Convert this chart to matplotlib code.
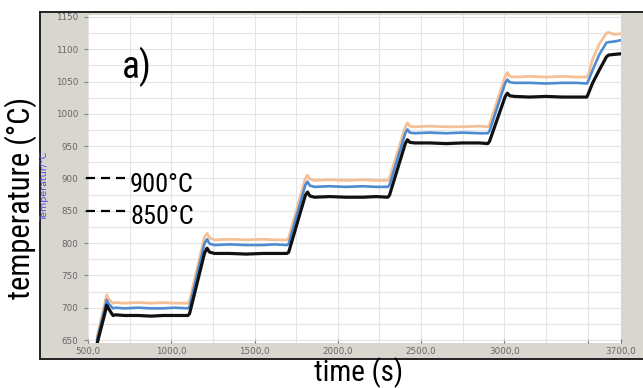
import matplotlib
matplotlib.use("Agg")
import matplotlib.pyplot as plt
from matplotlib.patches import Rectangle
from matplotlib.lines import Line2D
from matplotlib.ticker import MultipleLocator
from matplotlib import font_manager as fm

# ---------------- data ----------------
time_s = [555, 600, 612, 625, 650, 665, 720, 800, 880, 950, 1020, 1100,
          1110, 1200, 1215, 1230, 1260, 1350, 1450, 1550, 1620, 1695,
          1705, 1805, 1818, 1832, 1860, 1950, 2050, 2150, 2230, 2300,
          2310, 2405, 2418, 2432, 2460, 2550, 2650, 2750, 2850, 2900,
          2910, 3005, 3018, 3032, 3060, 3150, 3250, 3350, 3430, 3495,
          3505, 3530, 3570, 3612, 3625, 3660, 3700]

orange = [656, 706, 720, 713, 707, 708, 707, 708, 707, 708, 707, 707,
          711, 810, 815, 808, 805, 806, 805, 806, 805, 805,
          808, 900, 905, 899, 897, 898, 897, 898, 897, 897,
          900, 980, 986, 981, 980, 981, 980, 980, 981, 980,
          983, 1058, 1064, 1058, 1057, 1058, 1057, 1058, 1057, 1057,
          1062, 1085, 1108, 1125, 1126, 1123, 1124]

blue = [651, 698, 712, 706, 699, 700, 699, 700, 699, 699, 700, 699,
        702, 800, 806, 799, 797, 798, 797, 797, 798, 797,
        799, 890, 895, 889, 887, 888, 887, 888, 887, 887,
        890, 970, 976, 971, 970, 971, 970, 971, 970, 970,
        973, 1048, 1053, 1049, 1048, 1048, 1047, 1048, 1048, 1047,
        1052, 1068, 1092, 1110, 1111, 1112, 1114]

black = [645, 690, 704, 698, 688, 689, 688, 688, 687, 688, 688, 688,
         691, 785, 792, 786, 784, 784, 783, 784, 784, 784,
         786, 874, 879, 873, 871, 872, 871, 871, 872, 871,
         874, 954, 960, 956, 955, 955, 954, 955, 955, 954,
         957, 1027, 1032, 1028, 1027, 1026, 1027, 1026, 1026, 1026,
         1032, 1048, 1068, 1088, 1091, 1092, 1093]

x_ticks = [500, 1000, 1500, 2000, 2500, 3000, 3500, 3700]
x_tick_labels = ["500,0", "1000,0", "1500,0", "2000,0", "2500,0", "3000,0", "", "3700,0"]
y_ticks = [650, 700, 750, 800, 850, 900, 950, 1000, 1050, 1100, 1150]

marks = [(900, "900°C"), (850, "850°C")]


# ---------------- condensed font lookup ----------------
def find_condensed():
    prefs = ["Roboto Condensed", "Liberation Sans Narrow", "Open Sans Condensed",
             "Noto Sans Condensed", "DejaVu Sans Condensed"]
    found = []
    for f in fm.fontManager.ttflist:
        name = f.name
        narrow = ("Narrow" in name or "Condensed" in name or
                  str(f.stretch) in ("condensed", "semi-condensed", "extra-condensed", "ultra-condensed")
                  or "Condensed" in f.fname or "Narrow" in f.fname)
        if not narrow:
            continue
        if f.style != "normal":
            continue
        w = f.weight if isinstance(f.weight, int) else {"normal": 400, "regular": 400}.get(str(f.weight), 700)
        if w != 400:
            continue
        if "Mono" in name or "Serif" in name or "Mono" in f.fname or "Serif" in f.fname:
            continue
        found.append(f)

    def rank(f):
        for i, p in enumerate(prefs):
            if p in f.name or p.replace(" ", "") in f.fname.replace("-", ""):
                return i
        return len(prefs)
    found.sort(key=rank)
    if found:
        return fm.FontProperties(fname=found[0].fname)
    return fm.FontProperties(family="DejaVu Sans")


COND = find_condensed()


def cond(size):
    p = COND.copy()
    p.set_size(size)
    return p


# ---------------- figure ----------------
W, H = 643, 388
fig = plt.figure(figsize=(W / 100, H / 100), dpi=100)
fig.patch.set_facecolor("white")


def fx(px):
    return px / W


def fy(py):
    return 1 - py / H


# grey screenshot panel with black frame (left, top, bottom)
fig.patches.append(Rectangle((fx(40), fy(359)), fx(660) - fx(40), fy(12) - fy(359),
                             transform=fig.transFigure, facecolor="#d9d6cf",
                             edgecolor="none", zorder=-5))
for (x0, y0, x1, y1) in [(40, 12, 643, 12), (40, 359, 643, 359), (40, 12, 40, 359)]:
    fig.lines.append(Line2D([fx(x0), fx(x1)], [fy(y0), fy(y1)], transform=fig.transFigure,
                            color="#222222", lw=1.4, zorder=-4))

ax = fig.add_axes([fx(88), fy(343), fx(621) - fx(88), fy(15) - fy(343)])
ax.set_zorder(2)
ax.set_facecolor("white")
ax.set_xlim(500, 3700)
ax.set_ylim(645.4, 1153)

ax.xaxis.set_minor_locator(MultipleLocator(250))
ax.yaxis.set_minor_locator(MultipleLocator(25))
ax.grid(True, which="both", color="#e4e4e4", lw=0.8)
ax.set_axisbelow(True)
for s in ax.spines.values():
    s.set_visible(False)

ax.set_xticks(x_ticks)
ax.set_xticklabels(x_tick_labels)
ax.set_yticks(y_ticks)
ax.set_yticklabels([str(v) for v in y_ticks])
ax.tick_params(axis="x", which="major", direction="in", length=3, color="#777777",
               labelsize=6.3, labelcolor="#666666", pad=3)
ax.tick_params(axis="y", which="major", direction="out", length=3, color="#888888",
               labelsize=6.3, labelcolor="#666666", pad=4)
ax.tick_params(which="minor", length=0)

ax.plot(time_s, orange, color="#f5c096", lw=2.0, solid_joinstyle="round", zorder=3)
ax.plot(time_s, blue, color="#4f8bd0", lw=1.9, solid_joinstyle="round", zorder=4)
ax.plot(time_s, black, color="#111111", lw=2.3, solid_joinstyle="round", zorder=5)

# small blue axis caption of the screenshot
fig.text(fx(45), fy(186), "Temperatur/°C", rotation=90, color="#4a4af0",
         fontsize=6.8, ha="center", va="center", zorder=3)

# panel label
fig.text(fx(137), fy(67), "a)", fontproperties=cond(27), ha="center", va="center", zorder=6)

# reference temperature marks: three short dashes then the label
for val, lab in marks:
    py = 340 - (val - 650) * 0.646
    for x0 in (86, 101, 116):
        fig.lines.append(Line2D([fx(x0), fx(x0 + 9)], [fy(py), fy(py)],
                                transform=fig.transFigure, color="black", lw=1.6,
                                solid_capstyle="butt", zorder=6))
    fig.text(fx(130), fy(py + 13), lab, fontproperties=cond(19), ha="left",
             va="baseline", zorder=6)

# outer axis labels
fig.text(fx(21), fy(198), "temperature (°C)", rotation=90, fontproperties=cond(22),
         ha="center", va="center")
fig.text(fx(359), fy(373), "time (s)", fontproperties=cond(21), ha="center", va="center")

fig.savefig("out.png", dpi=100)
